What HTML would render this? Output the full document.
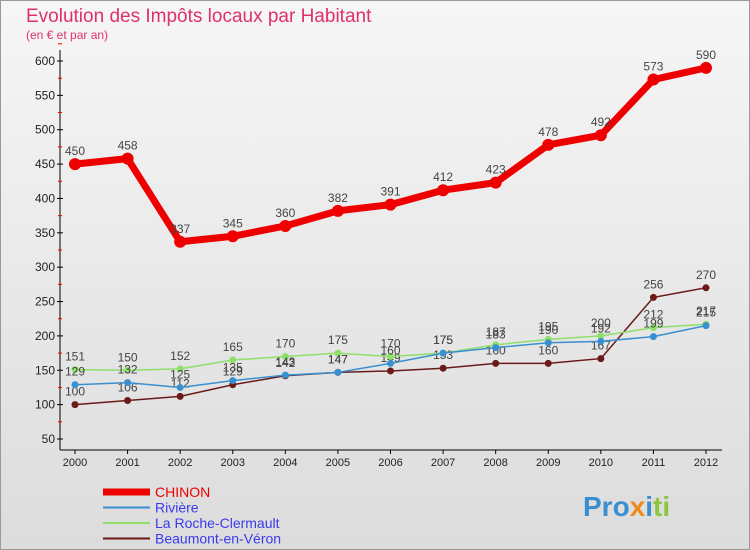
<!DOCTYPE html>
<html><head><meta charset="utf-8"><style>
body{margin:0;width:750px;height:550px;overflow:hidden;font-family:"Liberation Sans",sans-serif}
#c{position:absolute;left:0;top:0;width:748px;height:548px;border:1px solid #999;background:linear-gradient(#f6f6f6,#dcdcdc)}
</style></head><body>
<div id="c">
<svg id="s" width="750" height="550" xmlns="http://www.w3.org/2000/svg" style="position:absolute;left:-1px;top:-1px">
<text x="26" y="22" font-size="19" fill="#e0306a">Evolution des Impôts locaux par Habitant</text>
<text x="26" y="39" font-size="12" fill="#e0306a">(en € et par an)</text>
<g id="ax"></g><g id="ser"></g><g id="leg"></g>
<text x="583" y="516" font-size="28" font-weight="bold"><tspan fill="#3a8fd0">Pro</tspan><tspan fill="#f08a1a">x</tspan><tspan fill="#3a8fd0">i</tspan><tspan fill="#8cc63f">ti</tspan></text>
</svg></div>
<script>
const years=[2000,2001,2002,2003,2004,2005,2006,2007,2008,2009,2010,2011,2012];
const chinon=[450,458,337,345,360,382,391,412,423,478,492,573,590];
const riviere=[129,132,125,135,143,147,160,175,183,190,192,199,215];
const laroche=[151,150,152,165,170,175,170,175,187,195,200,212,217];
const beaumont=[100,106,112,129,142,147,149,153,160,160,167,256,270];
const yTicks=[50,100,150,200,250,300,350,400,450,500,550,600];
const NS='http://www.w3.org/2000/svg';
const X=i=>75+i*(706-75)/12, Y=v=>439-(v-50)*(378/550);
function mk(t,a,p){const e=document.createElementNS(NS,t);for(const k in a)e.setAttribute(k,a[k]);p.appendChild(e);return e;}
const ax=document.getElementById('ax');
const yl=mk('line',{x1:60,y1:50,x2:60,y2:450,stroke:'#000'},ax);


const xl=mk('line',{x1:60,y1:450,x2:722,y2:450,stroke:'#000'},ax);


yTicks.forEach(v=>{mk('line',{x1:57,x2:63,y1:Y(v),y2:Y(v),stroke:'#000'},ax);
mk('line',{x1:58,x2:62,y1:Y(v+25),y2:Y(v+25),stroke:'#e00'},ax);
const t=mk('text',{x:55,y:Y(v)+4,'font-size':12,'text-anchor':'end',fill:'#222'},ax);t.textContent=v;

});
years.forEach((y,i)=>{mk('line',{x1:X(i),x2:X(i),y1:450,y2:454,stroke:'#000'},ax);
const t=mk('text',{x:X(i),y:466,'font-size':11,'text-anchor':'middle',fill:'#222'},ax);t.textContent=y;

});
const S=[['beaumont',beaumont,'#6b1a1a',1.5,3.5,'Beaumont-en-Véron'],['laroche',laroche,'#8ee06a',1.5,3.5,'La Roche-Clermault'],['riviere',riviere,'#3a8fd0',1.5,3.5,'Rivière'],['chinon',chinon,'#ee0000',7,6,'CHINON']];
const ser=document.getElementById('ser');
S.forEach(([n,d,c,w,r])=>{const g=mk('g',{},ser);


mk('polyline',{points:d.map((v,i)=>X(i)+','+Y(v)).join(' '),fill:'none',stroke:c,'stroke-width':w},g);
d.forEach((v,i)=>{const p=mk('circle',{cx:X(i),cy:Y(v),r:r,fill:c},g);


const t=mk('text',{x:X(i),y:Y(v)-9,'font-size':12,'text-anchor':'middle',fill:'#444'},g);t.textContent=v;

});});
const leg=document.getElementById('leg');
[...S].reverse().forEach(([n,d,c,w,r,lab],k)=>{const y=492+k*15.5;
const g=mk('g',{},leg);


mk('line',{x1:103,x2:150,y1:y,y2:y,stroke:c,'stroke-width':n=='chinon'?7:2},g);
const t=mk('text',{x:155,y:y+5,'font-size':14,fill:n=='chinon'?'#e00':'#3a3aee'},g);t.textContent=lab;});
</script></body></html>
